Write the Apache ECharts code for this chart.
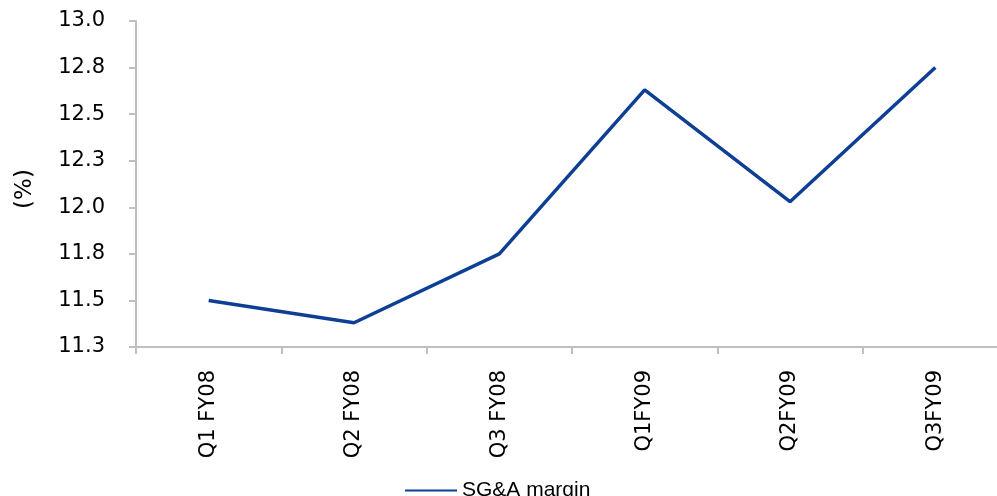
<!DOCTYPE html>
<html>
<head>
<meta charset="utf-8">
<script src="https://cdn.jsdelivr.net/npm/echarts@6/dist/echarts.min.js"></script>
<style>
  html, body { margin: 0; padding: 0; background: #fff; }
  #chart { width: 997px; height: 496px; }
</style>
</head>
<body>
<div id="chart"></div>
<script>
const quarters = ['Q1 FY08', 'Q2 FY08', 'Q3 FY08', 'Q1FY09', 'Q2FY09', 'Q3FY09'];
const sgaMargin = [11.50, 11.38, 11.75, 12.63, 12.03, 12.75];

const chart = echarts.init(document.getElementById('chart'));

const axisGrey = '#bfbfbf';
const font = 'DejaVu Sans, Verdana, sans-serif';

chart.setOption({
  animation: false,
  grid: {
    left: 136,
    top: 21,
    width: 872,
    height: 326,
    outerBoundsMode: 'none'
  },
  legend: {
    left: 400,
    top: 475,
    itemWidth: 52,
    itemHeight: 2,
    itemGap: 4,
    icon: 'rect',
    textStyle: { fontFamily: 'Liberation Sans, Arial, sans-serif', fontSize: 21, color: '#000' },
    data: ['SG&A margin']
  },
  xAxis: {
    type: 'category',
    data: quarters,
    boundaryGap: true,
    axisLine: { lineStyle: { color: axisGrey, width: 2 } },
    axisTick: { show: true, length: 7, lineStyle: { color: axisGrey, width: 2 } },
    axisLabel: {
      rotate: 90,
      margin: 23,
      fontFamily: font,
      fontSize: 21,
      color: '#000'
    }
  },
  yAxis: {
    type: 'value',
    min: 11.25,
    max: 13.0,
    interval: 0.25,
    name: '(%)',
    nameLocation: 'middle',
    nameGap: 99,
    nameRotate: 90,
    nameTextStyle: { fontFamily: font, fontSize: 23, color: '#000', padding: [0, 10, 0, 0] },
    axisLine: { show: true, lineStyle: { color: axisGrey, width: 2 } },
    axisTick: { show: true, length: 7, lineStyle: { color: axisGrey, width: 2 } },
    splitLine: { show: false },
    axisLabel: {
      margin: 31,
      fontFamily: font,
      fontSize: 21,
      color: '#000',
      formatter: v => v.toFixed(1)
    }
  },
  series: [
    {
      name: 'SG&A margin',
      type: 'line',
      data: sgaMargin,
      symbol: 'none',
      lineStyle: { color: '#0d3f94', width: 3.5 },
      itemStyle: { color: '#0d3f94' }
    }
  ]
});
</script>
</body>
</html>
